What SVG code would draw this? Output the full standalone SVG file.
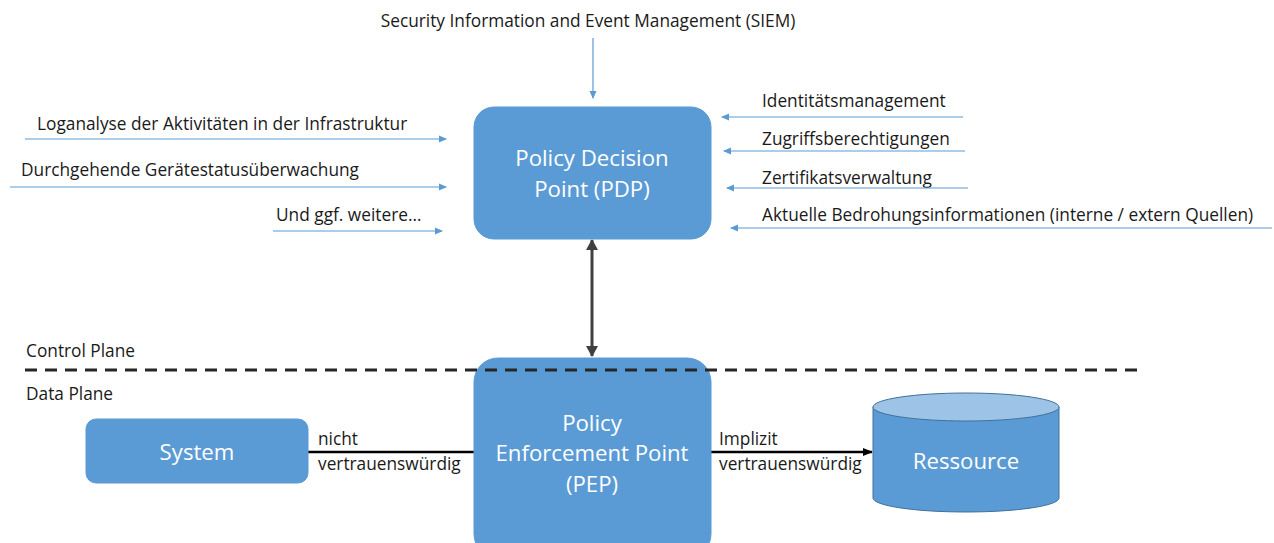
<svg xmlns="http://www.w3.org/2000/svg" width="1274" height="543" viewBox="0 0 1274 543">
<style>
.lbl{font-family:"Open Sans","Liberation Sans",sans-serif;font-size:17.3px;fill:#1a1a1a}
.box{fill:#5B9BD5;stroke:#5B9BD5}
.btxt{font-family:"Open Sans","Liberation Sans",sans-serif;font-size:22.2px;fill:#ffffff;text-anchor:middle}
.blue{stroke:#5B9BD5;stroke-width:1.2;fill:none;marker-end:url(#ab)}
</style>
<defs>
<marker id="ab" markerWidth="8" markerHeight="8" refX="7" refY="4" orient="auto" markerUnits="userSpaceOnUse"><path d="M0,0.5 L8,4 L0,7.5 Z" fill="#5B9BD5"/></marker>
<marker id="ad" markerWidth="12" markerHeight="12" refX="10" refY="6" orient="auto-start-reverse" markerUnits="userSpaceOnUse"><path d="M0,0 L11,6 L0,12 Z" fill="#404040"/></marker>
<marker id="ak" markerWidth="10" markerHeight="10" refX="9" refY="5" orient="auto" markerUnits="userSpaceOnUse"><path d="M0,1 L10,5 L0,9 Z" fill="#000"/></marker>
</defs>

<g id="labels">
<text class="lbl" x="588" y="27" text-anchor="middle">Security Information and Event Management (SIEM)</text>
<text class="lbl" x="37" y="130">Loganalyse der Aktivitäten in der Infrastruktur</text>
<text class="lbl" x="21" y="176">Durchgehende Gerätestatusüberwachung</text>
<text class="lbl" x="276" y="221">Und ggf. weitere…</text>
<text class="lbl" x="762" y="107">Identitätsmanagement</text>
<text class="lbl" x="762" y="145">Zugriffsberechtigungen</text>
<text class="lbl" x="762" y="184">Zertifikatsverwaltung</text>
<text class="lbl" x="762" y="221">Aktuelle Bedrohungsinformationen (interne / extern Quellen)</text>
<text class="lbl" x="26" y="357">Control Plane</text>
<text class="lbl" x="26" y="400">Data Plane</text>
<text class="lbl" x="318" y="445">nicht</text>
<text class="lbl" x="318" y="470">vertrauenswürdig</text>
<text class="lbl" x="719" y="445">Implizit</text>
<text class="lbl" x="719" y="470">vertrauenswürdig</text>
</g>

<g id="connectors">
<line class="blue" x1="593" y1="38" x2="593" y2="98"/>
<line class="blue" x1="25" y1="139" x2="446" y2="139"/>
<line class="blue" x1="10" y1="187" x2="446" y2="187"/>
<line class="blue" x1="273" y1="231" x2="442" y2="231"/>
<line class="blue" x1="963" y1="117" x2="722" y2="117"/>
<line class="blue" x1="965" y1="151" x2="724" y2="151"/>
<line class="blue" x1="968" y1="188" x2="727" y2="188"/>
<line class="blue" x1="1272" y1="228" x2="731" y2="228"/>
<line x1="592" y1="240" x2="592" y2="356" stroke="#404040" stroke-width="3" marker-start="url(#ad)" marker-end="url(#ad)"/>
<line x1="307" y1="452" x2="475" y2="452" stroke="#000" stroke-width="2.5"/>
<line x1="711" y1="452" x2="872" y2="452" stroke="#000" stroke-width="2.5" marker-end="url(#ak)"/>
</g>

<g id="PDP">
<rect class="box" x="474" y="107" width="237" height="132" rx="20"/>
<text class="btxt" x="592" y="166">Policy Decision</text>
<text class="btxt" x="592" y="197">Point (PDP)</text>
</g>

<g id="PEP">
<rect class="box" x="474" y="358" width="237" height="200" rx="24"/>
<text class="btxt" x="592" y="431">Policy</text>
<text class="btxt" x="592" y="461">Enforcement Point</text>
<text class="btxt" x="592" y="492">(PEP)</text>
</g>

<g id="plane-divider">
<line x1="25" y1="370" x2="1142" y2="370" stroke="#262626" stroke-width="3" stroke-dasharray="12,8"/>
</g>

<g id="System">
<rect class="box" x="86" y="419" width="222" height="64" rx="10"/>
<text class="btxt" x="197" y="460">System</text>
</g>

<g id="Ressource">
<path d="M873,407 L873,498 A93,14 0 0 0 1059,498 L1059,407" fill="#5B9BD5" stroke="#41719C" stroke-width="1"/>
<ellipse cx="966" cy="407" rx="93" ry="14" fill="#9DC3E6" stroke="#41719C" stroke-width="1"/>
<text class="btxt" x="966" y="469">Ressource</text>
</g>
</svg>
